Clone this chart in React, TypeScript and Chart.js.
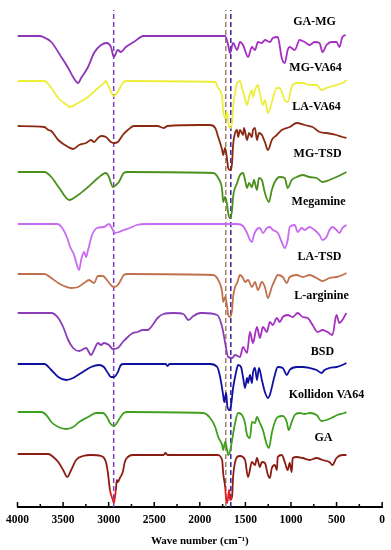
import React, { useEffect, useRef } from 'react';
import { Chart, registerables } from 'chart.js';

Chart.register(...registerables);

// ---- Data (wavenumber cm-1, transmittance relative to each trace's baseline) ----
const seriesNames = ['GA-MG', 'MG-VA64', 'LA-VA64', 'MG-TSD', 'Megamine', 'LA-TSD', 'L-arginine', 'BSD', 'Kollidon VA64', 'GA'];
const baselines = [471, 426, 381, 335, 283, 233, 194, 143, 95, 53];
const seriesColors = ['#8E34B8', '#EEEE3A', '#8B2A12', '#4A8F1A', '#C86BF0', '#C0704C', '#8A3DB8', '#1010A0', '#3F9F1F', '#8B1C14'];

const gaMg = [[4000,0],[3760,0],[3717,-1],[3629,-6],[3520,-21],[3444,-32],[3390,-41],[3335,-47],[3302,-42],[3226,-31],[3161,-17],[3084,-9],[3019,-7],[2975,-11],[2943,-21],[2899,-14],[2866,-16],[2812,-11],[2725,-6],[2616,0],[1722,0],[1689,-9],[1668,-17],[1635,-7],[1591,-14],[1559,-6],[1526,-9],[1471,-21],[1428,-11],[1395,-14],[1362,-6],[1319,-7],[1286,-4],[1232,-6],[1199,-2],[1145,-1],[1101,-22],[1068,-27],[1036,-14],[1014,-11],[959,-14],[905,-4],[850,-6],[796,-9],[741,-6],[687,-7],[654,-16],[610,-9],[556,-6],[501,-6],[469,-11],[436,-1],[400,1]];
const mgVa64 = [[4000,0],[3706,0],[3629,-7],[3553,-17],[3444,-25],[3433,-26],[3335,-22],[3226,-16],[3117,-7],[3052,-2],[3030,0],[2997,-6],[2943,-15],[2899,-11],[2845,-2],[2812,0],[1831,-1],[1798,-7],[1755,-16],[1744,-29],[1722,-37],[1700,-31],[1689,-41],[1668,-47],[1646,-42],[1635,-26],[1613,-12],[1591,-2],[1559,0],[1537,-7],[1515,-14],[1482,-24],[1460,-16],[1428,-9],[1417,-16],[1395,-9],[1362,-4],[1341,-12],[1308,-24],[1286,-19],[1253,-32],[1210,-21],[1155,-7],[1123,-7],[1068,-19],[1036,-21],[992,-6],[937,-2],[872,-2],[796,-4],[719,-4],[665,-9],[610,-7],[501,-4],[414,-1],[392,1]];
const laVa64 = [[4000,0],[3706,-1],[3662,-4],[3629,-5],[3553,-14],[3444,-21],[3390,-23],[3324,-19],[3248,-17],[3193,-14],[3161,-16],[3117,-12],[3084,-10],[3030,-11],[2975,-16],[2943,-17],[2899,-16],[2845,-9],[2790,-4],[2725,0],[2463,0],[2398,-2],[2354,0],[1995,1],[1886,1],[1831,-2],[1798,-11],[1755,-24],[1744,-29],[1722,-22],[1700,-34],[1689,-42],[1668,-44],[1646,-37],[1635,-19],[1613,-7],[1591,-4],[1580,-11],[1559,-4],[1526,-9],[1515,-2],[1482,-14],[1460,-7],[1428,-11],[1417,-4],[1395,-2],[1373,-14],[1351,-7],[1319,-9],[1286,-16],[1253,-24],[1210,-14],[1155,-9],[1101,-4],[1014,-1],[937,3],[850,1],[763,-1],[687,-6],[610,-7],[501,-9],[436,-11],[392,-12]];
const mgTsd = [[4000,0],[3706,0],[3629,-5],[3542,-16],[3433,-28],[3335,-23],[3226,-15],[3117,-6],[3030,-1],[2997,-5],[2954,-15],[2921,-13],[2888,-10],[2834,-1],[2790,0],[1853,-1],[1798,-6],[1755,-18],[1744,-30],[1722,-25],[1700,-33],[1689,-41],[1668,-46],[1646,-38],[1635,-25],[1591,-11],[1559,-3],[1526,-1],[1504,-8],[1482,-16],[1460,-11],[1428,-15],[1406,-8],[1373,-18],[1351,-6],[1319,-8],[1286,-21],[1242,-30],[1210,-18],[1177,-10],[1123,-5],[1068,-6],[1036,-16],[992,-8],[937,-5],[872,-3],[796,-5],[719,-6],[654,-10],[578,-8],[501,-5],[392,0]];
const megamine = [[4000,0],[3564,0],[3509,-4],[3455,-14],[3422,-23],[3379,-31],[3357,-38],[3324,-46],[3302,-36],[3270,-28],[3248,-33],[3226,-26],[3182,-11],[3128,-4],[3052,-3],[2997,0],[2965,-4],[2932,-9],[2888,-8],[2834,-6],[2768,-4],[2692,-1],[2583,0],[1591,0],[1526,-2],[1482,-9],[1450,-16],[1428,-18],[1406,-11],[1373,-5],[1341,-4],[1308,-9],[1264,-4],[1232,-3],[1199,-6],[1145,-9],[1101,-18],[1068,-24],[1036,-16],[1014,-3],[959,-1],[926,-8],[883,-4],[850,-6],[796,-3],[741,-6],[687,-11],[654,-16],[610,-13],[578,-6],[545,-3],[501,-6],[469,-9],[436,-4],[392,-1]];
const laTsd = [[4000,0],[3706,0],[3629,-4],[3553,-9],[3488,-12],[3411,-14],[3335,-13],[3270,-9],[3215,-6],[3161,-9],[3117,-2],[3063,-2],[3019,-6],[2975,-11],[2943,-13],[2899,-11],[2866,-6],[2834,-1],[2790,0],[1853,-1],[1798,-6],[1755,-18],[1744,-28],[1722,-23],[1700,-33],[1689,-41],[1668,-43],[1646,-36],[1635,-23],[1613,-13],[1591,-9],[1559,-1],[1526,-4],[1504,-8],[1471,-6],[1428,-13],[1395,-8],[1362,-16],[1319,-8],[1286,-13],[1253,-24],[1210,-13],[1177,-6],[1145,-1],[1090,-3],[1046,-9],[1014,-3],[937,-1],[872,-3],[796,-1],[719,-4],[654,-7],[578,-4],[501,-3],[436,-1],[392,1]];
const lArginine = [[4000,0],[3629,0],[3553,-5],[3499,-14],[3444,-27],[3390,-35],[3324,-38],[3248,-35],[3193,-42],[3161,-37],[3117,-30],[3084,-32],[3052,-30],[2997,-32],[2954,-36],[2899,-35],[2845,-29],[2790,-24],[2736,-20],[2681,-19],[2627,-17],[2572,-17],[2518,-12],[2463,-5],[2398,-1],[2289,0],[2180,-1],[2125,-7],[2071,-3],[1995,0],[1962,0],[1809,-2],[1755,-14],[1722,-30],[1689,-44],[1646,-45],[1613,-42],[1559,-44],[1526,-34],[1482,-40],[1450,-19],[1417,-30],[1373,-14],[1341,-25],[1308,-14],[1264,-19],[1232,-9],[1199,-12],[1155,-5],[1123,-9],[1090,-4],[1036,-2],[981,-4],[926,0],[872,-4],[817,-5],[763,-12],[708,-19],[654,-17],[599,-19],[545,-22],[501,-2],[469,-10],[436,-7],[392,0]];
const bsd = [[4000,0],[3706,0],[3629,-6],[3553,-13],[3466,-16],[3390,-14],[3302,-9],[3193,-3],[3106,-1],[3052,-3],[3008,-9],[2975,-13],[2943,-13],[2899,-8],[2866,-1],[2834,0],[2376,0],[2354,-2],[2332,0],[1886,0],[1809,-3],[1777,-13],[1744,-31],[1733,-38],[1711,-29],[1700,-41],[1678,-46],[1657,-41],[1635,-24],[1602,-8],[1580,-1],[1548,-3],[1526,-13],[1504,-24],[1482,-14],[1471,-19],[1450,-11],[1428,-19],[1417,-9],[1395,-4],[1373,-16],[1351,-4],[1319,-16],[1286,-28],[1253,-34],[1232,-31],[1177,-11],[1145,-3],[1090,-4],[1046,-11],[1014,-6],[937,-3],[872,-3],[796,-4],[719,-6],[665,-9],[632,-6],[578,-4],[501,-3],[436,-1],[392,1]];
const kollidon = [[4000,0],[3738,0],[3684,-3],[3629,-10],[3553,-15],[3466,-17],[3390,-15],[3324,-10],[3226,-5],[3139,-1],[3063,-1],[3019,-5],[2986,-11],[2943,-14],[2910,-11],[2877,-6],[2834,-1],[2790,0],[1962,-1],[1886,-6],[1831,-15],[1798,-25],[1755,-33],[1744,-38],[1722,-30],[1700,-38],[1689,-43],[1668,-39],[1646,-28],[1613,-11],[1580,-1],[1537,-3],[1504,-11],[1482,-23],[1450,-26],[1428,-10],[1395,-11],[1373,-5],[1341,-11],[1308,-18],[1264,-33],[1242,-36],[1210,-21],[1177,-10],[1145,-5],[1090,-4],[1046,-10],[1025,-18],[992,-10],[959,-3],[905,-1],[850,-2],[796,-1],[719,-3],[665,-9],[610,-8],[556,-6],[491,-3],[414,-1],[392,0]];
const ga = [[4000,0],[3662,0],[3608,-3],[3553,-8],[3499,-16],[3455,-23],[3411,-16],[3357,-6],[3281,-2],[3193,-1],[3084,-2],[3030,-8],[3008,-19],[2986,-36],[2954,-46],[2943,-49],[2921,-36],[2910,-26],[2899,-28],[2877,-24],[2845,-18],[2823,-8],[2790,-3],[2736,-1],[2398,-1],[2376,1],[2354,-1],[1809,-1],[1755,-6],[1744,-19],[1722,-33],[1711,-46],[1700,-49],[1678,-36],[1668,-46],[1646,-43],[1635,-23],[1613,-8],[1591,-3],[1559,-2],[1504,-6],[1471,-23],[1428,-8],[1395,-11],[1373,-4],[1341,-13],[1319,-8],[1286,-9],[1253,-21],[1232,-24],[1210,-14],[1177,-11],[1155,-16],[1145,-3],[1101,-1],[1068,-8],[1036,-16],[1014,-9],[992,-18],[981,-4],[937,-3],[872,-4],[796,-6],[719,-4],[654,-6],[578,-8],[545,-11],[501,-4],[436,-1],[392,-1]];

const spectra = [gaMg, mgVa64, laVa64, mgTsd, megamine, laTsd, lArginine, bsd, kollidon, ga];

// label anchors (wavenumber, level) for the trace names
const labelWave = [741, 730, 719, 708, 697, 687, 665, 654, 610, 643];
const labelLevel = [485, 439, 400, 353, 305, 250, 211, 155, 112, 69];

// dashed reference lines
const dashedWaves = [2945, 1715, 1660];
const dashedColors = ['#7B3FC0', '#A08068', '#3A1FA0'];
const dashedTop = 497;

const xTickValues = [4000, 3500, 3000, 2500, 2000, 1500, 1000, 500, 0];
const minorStep = 250;
const xTitle = 'Wave number (cm\u207B\u00B9)';

const FONT = '"Liberation Serif", "Times New Roman", serif';

const overlayPlugin = {
  id: 'overlay',
  afterDatasetsDraw(chart: any) {
    const { ctx, chartArea, scales } = chart;
    const xs = scales.x;
    const ys = scales.y;
    ctx.save();
    ctx.strokeStyle = '#000';
    ctx.lineWidth = 1.5;
    for (let v = 0; v <= 4000; v += minorStep) {
      const px = xs.getPixelForValue(v);
      const len = v % 500 === 0 ? 5 : 3;
      ctx.beginPath();
      ctx.moveTo(px, chartArea.bottom);
      ctx.lineTo(px, chartArea.bottom - len);
      ctx.stroke();
    }
    ctx.fillStyle = '#000';
    ctx.font = 'bold 12px ' + FONT;
    ctx.textAlign = 'center';
    ctx.textBaseline = 'middle';
    seriesNames.forEach((n, i) => {
      ctx.fillText(n, xs.getPixelForValue(labelWave[i]), ys.getPixelForValue(labelLevel[i]));
    });
    ctx.restore();
  },
};

export default function App() {
  const ref = useRef<HTMLCanvasElement | null>(null);
  useEffect(() => {
    if (!ref.current) return;
    const datasets: any[] = spectra.map((s, i) => {
      const ds: any = {
        label: seriesNames[i],
        data: s.map(([w, t]) => ({ x: w, y: baselines[i] + t })),
        borderColor: seriesColors[i],
        borderWidth: 1.8,
        pointRadius: 0,
        fill: false,
        cubicInterpolationMode: 'monotone',
      };
      if (i === 0 || i === 6) {
        ds.segment = { borderColor: (c: any) => (c.p0.parsed.x < 1600 && c.p1.parsed.x < 1600 ? '#A62EC2' : undefined) };
      }
      if (i === 9) {
        ds.segment = { borderColor: (c: any) => (c.p0.parsed.y < baselines[9] - 28 && c.p1.parsed.y < baselines[9] - 28 ? '#D81E1E' : undefined) };
      }
      return ds;
    });
    dashedWaves.forEach((w, i) => {
      datasets.push({
        label: 'dash' + i,
        data: [{ x: w, y: 0 }, { x: w, y: dashedTop }],
        borderColor: dashedColors[i],
        borderWidth: 1.5,
        borderDash: [5, 3],
        pointRadius: 0,
        fill: false,
      });
    });
    const chart = new Chart(ref.current, {
      type: 'line',
      data: { datasets },
      plugins: [overlayPlugin],
      options: {
        animation: false,
        responsive: false,
        devicePixelRatio: 1,
        layout: { padding: { left: 16, right: 8, top: 0, bottom: 0 } },
        plugins: { legend: { display: false }, tooltip: { enabled: false } },
        scales: {
          x: {
            type: 'linear',
            reverse: true,
            min: 0,
            max: 4000,
            afterBuildTicks: (scale: any) => {
              scale.ticks = xTickValues.map((v) => ({ value: v }));
            },
            afterFit: (scale: any) => {
              scale.height = 43;
            },
            grid: { display: false, drawTicks: false },
            border: { display: true, color: '#000', width: 2 },
            ticks: {
              autoSkip: false,
              maxRotation: 0,
              padding: 6,
              color: '#000',
              font: { family: FONT, size: 11.5, weight: 'bold' },
              callback: (v: any) => String(v),
            },
            title: {
              display: true,
              text: xTitle,
              color: '#000',
              font: { family: FONT, size: 11, weight: 'bold' },
              padding: { top: 0, bottom: 2 },
            },
          },
          y: {
            type: 'linear',
            display: false,
            min: 0,
            max: 507,
          },
        },
      },
    } as any);
    return () => chart.destroy();
  }, []);
  return (
    <div style={{ position: 'absolute', left: 0, top: 0, width: 391, height: 550, background: '#fff' }}>
      <canvas ref={ref} width={391} height={550} />
    </div>
  );
}
